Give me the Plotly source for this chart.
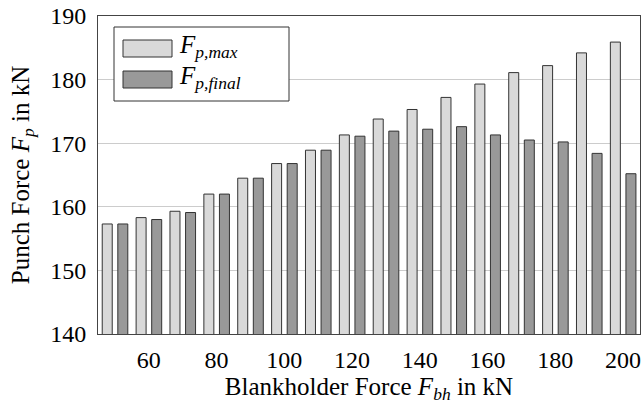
import plotly.graph_objects as go

blankholder_force = [50, 60, 70, 80, 90, 100, 110, 120, 130, 140, 150, 160, 170, 180, 190, 200]
fp_max = [157.3, 158.3, 159.3, 162.0, 164.5, 166.8, 168.9, 171.3, 173.8, 175.3, 177.2, 179.3, 181.1, 182.2, 184.2, 185.9]
fp_final = [157.3, 158.0, 159.1, 162.0, 164.5, 166.8, 168.9, 171.1, 171.9, 172.2, 172.6, 171.3, 170.5, 170.2, 168.4, 165.2]
x_ticks = [60, 80, 100, 120, 140, 160, 180, 200]
y_ticks = [140, 150, 160, 170, 180, 190]
legend_labels = ["<i>F</i><sub><i>p,max</i></sub>", "<i>F</i><sub><i>p,final</i></sub>"]

LIGHT = "#d9d9d9"
DARK = "#999999"
EDGE = "#333333"
FONT = "Liberation Serif"

W, H = 641, 404
L, R, T, B = 98, 1, 16, 70
pw, ph = W - L - R, H - T - B


def px(xp):
    return (xp - L) / pw


def py(yp):
    return (T + ph - yp) / ph


fig = go.Figure()
fig.add_trace(go.Bar(x=blankholder_force, y=fp_max, width=2.95, offset=-3.75,
                     marker=dict(color=LIGHT, line=dict(color=EDGE, width=1)),
                     name="F_p,max", showlegend=False))
fig.add_trace(go.Bar(x=blankholder_force, y=fp_final, width=2.95, offset=0.85,
                     marker=dict(color=DARK, line=dict(color=EDGE, width=1)),
                     name="F_p,final", showlegend=False))

shapes = [
    dict(type="rect", xref="paper", yref="paper", x0=px(114), x1=px(289), y0=py(101), y1=py(27),
         line=dict(color=EDGE, width=1), fillcolor="white", layer="above"),
]
annotations = []
for i, (lab, col) in enumerate(zip(legend_labels, [LIGHT, DARK])):
    top = 40 + i * 31
    shapes.append(dict(type="rect", xref="paper", yref="paper", x0=px(123), x1=px(172),
                       y0=py(top + 17), y1=py(top), line=dict(color=EDGE, width=1),
                       fillcolor=col, layer="above"))
    annotations.append(dict(xref="paper", yref="paper", x=px(177), y=py(top + 7),
                            xanchor="left", yanchor="middle", text=lab, showarrow=False,
                            font=dict(family=FONT, size=25, color="black")))

tickfont = dict(family=FONT, size=24, color="black")
titlefont = dict(family=FONT, size=25, color="black")

fig.update_layout(
    width=W, height=H,
    margin=dict(l=L, r=R, t=T, b=B, autoexpand=False),
    paper_bgcolor="white", plot_bgcolor="white",
    barmode="overlay",
    font=dict(family=FONT, size=24, color="black"),
    shapes=shapes, annotations=annotations,
    showlegend=False,
)
fig.update_xaxes(range=[45, 205], tickvals=x_ticks, showgrid=False, zeroline=False,
                 showline=True, mirror=True, linecolor="#444444", linewidth=1,
                 ticks="", ticklen=0, ticklabelstandoff=4, tickfont=tickfont,
                 ticklabeloverflow="allow", automargin=False,
                 title=dict(text="Blankholder Force <i>F</i><sub><i>bh</i></sub> in kN",
                            font=titlefont, standoff=11))
fig.update_yaxes(range=[140, 190], tickvals=y_ticks, showgrid=True, gridcolor="#cccccc",
                 zeroline=False, showline=True, mirror=True, linecolor="#444444", linewidth=1,
                 ticks="", ticklabelstandoff=6, tickfont=tickfont, automargin=False,
                 title=dict(text="Punch Force <i>F</i><sub><i>p</i></sub> in kN",
                            font=titlefont, standoff=13))

fig.write_html("out.html")
